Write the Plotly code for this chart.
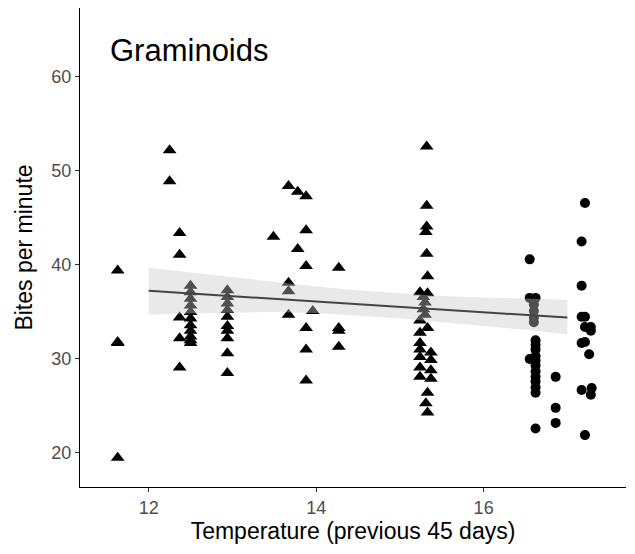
import plotly.graph_objects as go

# Observations drawn as triangles (cooler sites)
tri_temp = [
    11.63, 11.63, 11.63, 11.63,
    12.25, 12.25,
    12.37, 12.37, 12.37, 12.37, 12.37,
    12.50, 12.50, 12.50, 12.50, 12.50, 12.50, 12.50, 12.50, 12.50, 12.50, 12.50,
    12.94, 12.94, 12.94, 12.94, 12.94, 12.94, 12.94, 12.94, 12.94, 12.94,
    13.49, 13.67, 13.67, 13.67, 13.67, 13.78, 13.78,
    13.88, 13.88, 13.88, 13.88, 13.88, 13.88, 13.96,
    14.27, 14.27, 14.27, 14.27,
    15.32, 15.32, 15.32, 15.31, 15.32, 15.33, 15.24, 15.33,
    15.28, 15.30, 15.28, 15.30,
    15.24, 15.33, 15.24, 15.24, 15.24, 15.37, 15.24, 15.37, 15.24, 15.37, 15.24, 15.37,
    15.33, 15.31, 15.33,
]
tri_bites = [
    39.4, 31.8, 31.7, 19.5,
    52.2, 48.9,
    43.4, 41.1, 34.4, 32.2, 29.1,
    37.8, 37.1, 36.4, 35.7, 35.0, 34.3, 33.6, 33.0, 32.4, 32.0, 31.7,
    37.3, 36.6, 35.9, 35.2, 34.5, 33.5, 33.0, 32.2, 30.6, 28.5,
    43.0, 48.4, 38.1, 37.2, 34.7, 47.8, 41.7,
    47.3, 43.7, 39.9, 33.3, 31.0, 27.7, 35.1,
    39.7, 33.3, 33.0, 31.3,
    52.6, 46.3, 44.1, 43.5, 41.2, 38.8, 37.1, 37.0,
    36.6, 36.0, 35.3, 34.7,
    34.1, 33.3, 32.8, 31.7, 31.0, 30.7, 30.2, 29.9, 29.1, 28.8, 28.1, 27.9,
    26.4, 25.3, 24.3,
]

# Observations drawn as circles (warmer sites)
dot_temp = [
    16.55, 16.55, 16.62, 16.60, 16.60, 16.60, 16.60,
    16.62, 16.62, 16.62, 16.62, 16.62, 16.62, 16.62, 16.62, 16.62, 16.62, 16.62,
    16.55, 16.62,
    16.86, 16.86, 16.86,
    17.21, 17.17, 17.17, 17.17, 17.21, 17.21, 17.28, 17.28, 17.17, 17.21,
    17.26, 17.17, 17.29, 17.28, 17.21,
]
dot_bites = [
    40.6, 36.5, 36.5, 35.8, 35.1, 34.4, 33.9,
    32.0, 31.5, 31.0, 30.3, 29.8, 29.3, 28.7, 28.1, 27.6, 27.0, 26.4,
    30.0, 22.6,
    28.1, 24.8, 23.2,
    46.6, 42.5, 37.8, 34.5, 34.5, 33.4, 33.4, 33.0, 31.7, 31.8,
    30.5, 26.7, 26.9, 26.2, 21.9,
]

# Fitted trend and its confidence band
fit_temp = [12.0, 12.5, 13.0, 13.5, 14.0, 14.5, 15.0, 15.5, 16.0, 16.5, 17.0]
fit_mean = [37.25, 36.96, 36.68, 36.39, 36.11, 35.82, 35.54, 35.25, 34.97, 34.68, 34.40]
fit_upper = [39.7, 39.2, 38.7, 38.2, 37.7, 37.3, 37.0, 36.7, 36.55, 36.4, 36.3]
fit_lower = [34.7, 34.85, 34.95, 35.0, 34.9, 34.6, 34.3, 33.9, 33.5, 33.1, 32.6]

x_ticks = [12, 14, 16]
y_ticks = [20, 30, 40, 50, 60]

FONT = "Liberation Sans, Arial, Helvetica, sans-serif"

fig = go.Figure()

fig.add_trace(go.Scatter(
    x=tri_temp, y=tri_bites, mode="markers",
    marker=dict(symbol="triangle-up", size=12, color="black", line=dict(width=0)),
    showlegend=False, hoverinfo="x+y",
))
fig.add_trace(go.Scatter(
    x=dot_temp, y=dot_bites, mode="markers",
    marker=dict(symbol="circle", size=10, color="black", line=dict(width=0)),
    showlegend=False, hoverinfo="x+y",
))

# Band sits over the points, which makes the covered points look grey
fig.add_trace(go.Scatter(
    x=fit_temp + fit_temp[::-1], y=fit_upper + fit_lower[::-1],
    mode="lines", fill="toself", fillcolor="rgba(200,200,200,0.4)",
    line=dict(width=0), showlegend=False, hoverinfo="skip",
))
fig.add_trace(go.Scatter(
    x=fit_temp, y=fit_mean, mode="lines",
    line=dict(color="#444444", width=2), showlegend=False,
))

axis_common = dict(
    showgrid=False, zeroline=False, showline=True, linecolor="black", linewidth=1.3,
    ticks="outside", ticklen=4, tickwidth=1.1, tickcolor="#333333",
    tickfont=dict(family=FONT, size=18, color="#4d4d4d"),
)

fig.update_layout(
    width=635, height=554,
    margin=dict(l=80, r=9, t=8, b=67),
    paper_bgcolor="white", plot_bgcolor="white",
    xaxis=dict(
        range=[11.18, 17.70], tickvals=x_ticks, ticktext=[str(v) for v in x_ticks],
        title=dict(text="Temperature (previous 45 days)",
                   font=dict(family=FONT, size=23, color="black"), standoff=4),
        **axis_common,
    ),
    yaxis=dict(
        range=[16.38, 67.34], tickvals=y_ticks, ticktext=[str(v) for v in y_ticks],
        title=dict(text="Bites per minute",
                   font=dict(family=FONT, size=23, color="black"), standoff=12),
        **axis_common,
    ),
    annotations=[dict(
        text="Graminoids", x=0.051, y=0.912, xref="paper", yref="paper",
        xanchor="left", yanchor="middle", showarrow=False,
        font=dict(family=FONT, size=31, color="black"),
    )],
)

fig.write_html("out.html")
